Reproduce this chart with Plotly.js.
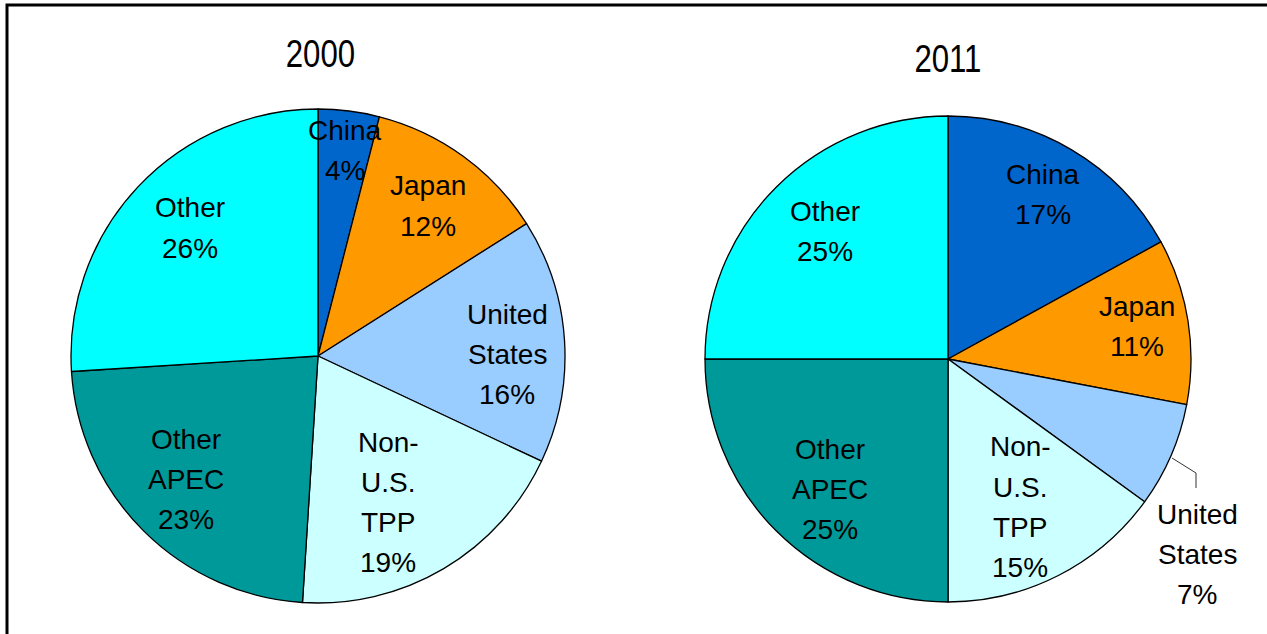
<!DOCTYPE html>
<html><head><meta charset="utf-8">
<script src="https://cdn.plot.ly/plotly-3.0.1.min.js"></script>
<style>html,body{margin:0;padding:0;background:#fff;}#chart{width:1267px;height:634px;}</style>
</head><body><div id="chart"></div>
<script>
var categories = ["China", "Japan", "United States", "Non-U.S. TPP", "Other APEC", "Other"];
var labels2000 = ["China<br>4%", "Japan<br>12%", "United<br>States<br>16%", "Non-<br>U.S.<br>TPP<br>19%", "Other<br>APEC<br>23%", "Other<br>26%"];
var labels2011 = ["China<br>17%", "Japan<br>11%", "United<br>States<br>7%", "Non-<br>U.S.<br>TPP<br>15%", "Other<br>APEC<br>25%", "Other<br>25%"];
var values2000 = [4, 12, 16, 19, 23, 26];
var values2011 = [17, 11, 7, 15, 25, 25];
var colors = ["#0066CC", "#FF9900", "#99CCFF", "#CCFFFF", "#009999", "#00FFFF"];
var years = ["2000", "2011"];

var W = 1267, H = 634;
function px(x){ return x / W; }
function py(y){ return 1 - y / H; }
function dom(cx, cy, r){ return {x:[px(cx - r), px(cx + r)], y:[py(cy + r), py(cy - r)]}; }

var base = {type:'pie', sort:false, direction:'clockwise', rotation:0,
  marker:{colors:colors, line:{color:'#000', width:1.3}}, textinfo:'none', hoverinfo:'label+percent', showlegend:false};
var t1 = Object.assign({}, base, {labels:categories, values:values2000, domain:dom(318, 356, 247)});
var t2 = Object.assign({}, base, {labels:categories, values:values2011, domain:dom(948, 359, 243)});

var lblFont = {family:'Liberation Sans, Arial, sans-serif', size:28, color:'#000'};
var pos2000 = [[345,150],[428,206],[507,354],[388,502],[186,479],[190,228]];
var pos2011 = [[1043,194],[1137,326],[1197,554],[1020,507],[830,489],[825,232]];
var LS = 40;
var ann = [];
function addLabels(lbls, pos){
  for (var i = 0; i < lbls.length; i++){
    var lines = lbls[i].split('<br>');
    var y0 = pos[i][1] - (lines.length - 1) * LS / 2;
    for (var j = 0; j < lines.length; j++){
      ann.push({xref:'paper', yref:'paper', x:px(pos[i][0]), y:py(y0 + j * LS), xanchor:'center', yanchor:'middle',
        text:lines[j], showarrow:false, font:lblFont, align:'center'});
    }
  }
}
addLabels(labels2000, pos2000);
addLabels(labels2011, pos2011);
var titleFont = {family:'Liberation Sans, Arial, sans-serif', size:39, color:'#000'};
ann.push({xref:'paper', yref:'paper', x:px(320), y:py(53), xanchor:'center', yanchor:'middle', text:years[0], showarrow:false, font:titleFont});
ann.push({xref:'paper', yref:'paper', x:px(948), y:py(59), xanchor:'center', yanchor:'middle', text:years[1], showarrow:false, font:titleFont});

var shapes = [
  {type:'rect', xref:'paper', yref:'paper', x0:px(7), x1:px(1290), y0:py(660), y1:py(5), line:{color:'#000', width:3}},
  {type:'path', xref:'paper', yref:'paper', path:'M '+px(1172)+','+py(458)+' L '+px(1196)+','+py(473)+' L '+px(1196)+','+py(488), line:{color:'#333', width:1}}
];

Plotly.newPlot('chart', [t1, t2], {width:W, height:H, margin:{l:0,r:0,t:0,b:0}, paper_bgcolor:'#fff',
  annotations:ann, shapes:shapes}, {staticPlot:true}).then(function(gd){
  var texts = gd.querySelectorAll('.annotation-text');
  texts.forEach(function(t){
    if (years.indexOf(t.textContent) >= 0){
      t.style.transformBox = 'fill-box';
      t.style.transformOrigin = 'center';
      t.style.transform = 'scaleX(0.8)';
    }
  });
});
</script></body></html>
